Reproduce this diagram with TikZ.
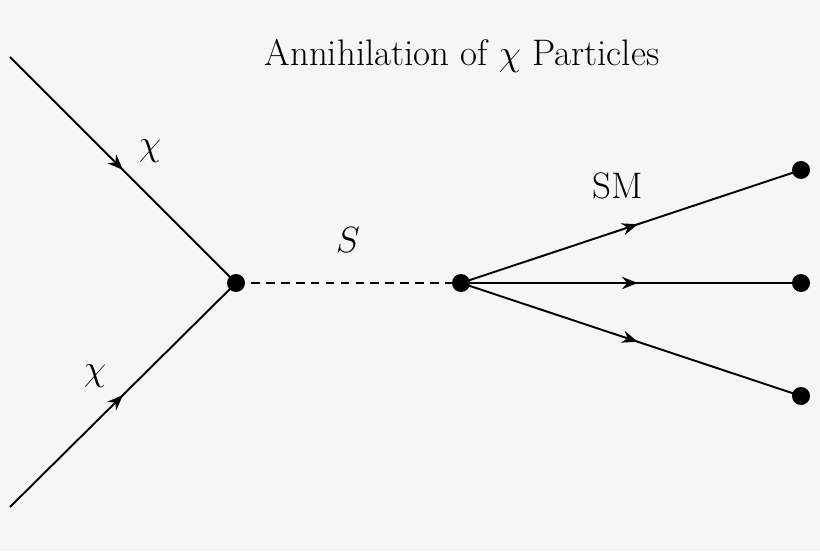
\documentclass[tikz,border=0pt]{standalone}
\usetikzlibrary{decorations.markings,arrows.meta}
\definecolor{bg}{HTML}{F6F6F6}
\begin{document}
\begin{tikzpicture}[
  fermion/.style={line width=1.1pt,postaction={decorate},decoration={markings,mark=at position #1 with {\arrow{Stealth[length=9pt,width=7pt]}}}},
  fermion/.default=0.52,
  scalar/.style={line width=1.1pt,dashed,dash pattern=on 5pt off 3.5pt},
  dot/.style={circle,fill=black,inner sep=0pt,minimum size=0.36cm},
  lbl/.style={font=\fontsize{21}{25}\selectfont}]
\fill[bg] (0,0) rectangle (16.4,11.02);
\useasboundingbox (0,0) rectangle (16.4,11.02);
\coordinate (a) at (0.2,9.88);
\coordinate (b) at (0.2,0.88);
\node[dot] (v1) at (4.72,5.36) {};
\node[dot] (v2) at (9.22,5.36) {};
\node[dot] (e1) at (16.02,7.62) {};
\node[dot] (e2) at (16.02,5.36) {};
\node[dot] (e3) at (16.02,3.10) {};
\draw[fermion=0.5] (a) -- (v1.center);
\draw[fermion=0.5] (b) -- (v1.center);
\draw[scalar] (v1.center) -- (v2.center);
\draw[fermion] (v2.center) -- (e1.center);
\draw[fermion] (v2.center) -- (e2.center);
\draw[fermion] (v2.center) -- (e3.center);
\node[lbl] (t) at (9.24,9.9) {Annihilation of $\chi$ Particles};
\node[lbl] (c1) at (3.0,8.0) {$\chi$};
\node[lbl] (c2) at (1.9,3.5) {$\chi$};
\node[lbl] (s) at (6.96,6.22) {$S$};
\node[lbl] (sm) at (12.36,7.3) {SM};
\end{tikzpicture}
\end{document}
